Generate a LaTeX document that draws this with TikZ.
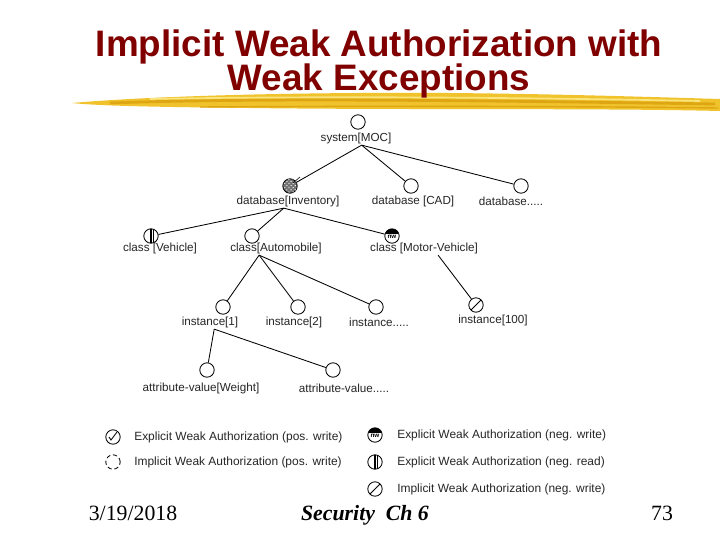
\documentclass[tikz,border=0pt]{standalone}
\usepackage{fontspec}
\setmainfont{Liberation Serif}
\setsansfont{Liberation Sans}
\usetikzlibrary{patterns}

\definecolor{titlered}{RGB}{128,0,0}
\definecolor{brushgold}{RGB}{240,195,45}
\definecolor{brushdark}{RGB}{222,166,18}
\definecolor{brushlight}{RGB}{250,228,125}

\tikzset{
  obj/.style={circle, draw, line width=0.6pt, inner sep=0pt, minimum size=0.36cm},
  expos/.style={obj, path picture={
      \draw (path picture bounding box.center) ++(-4,0) -- ++(2,3) -- ++(6,-8);}},
  impos/.style={obj, densely dashed},
  exnegw/.style={obj, path picture={
      \fill (path picture bounding box.north west) rectangle ([yshift=1.2pt]path picture bounding box.east);
      \node[font=\sffamily\bfseries\fontsize{4.5}{5}\selectfont, inner sep=0pt]
        at ([yshift=-0.8pt]path picture bounding box.center) {nw};}},
  exnegr/.style={obj, path picture={
      \draw[line width=0.9pt] (path picture bounding box.center) ++(0,-8) -- ++(0,16);
      \draw[line width=0.9pt] (path picture bounding box.center) ++(2.5,-8) -- ++(0,16);}},
  imnegw/.style={obj, path picture={
      \draw (path picture bounding box.center) ++(-5,5) -- ++(10,-10);}},
  lbl/.style={font=\sffamily\fontsize{8.3}{9}\selectfont, text=black!85, inner sep=1pt},
  leg/.style={font=\sffamily\fontsize{8.5}{10}\selectfont, text=black!85, anchor=west, inner sep=0pt},
  edge/.style={line width=0.6pt},
  heading/.style={font=\sffamily\bfseries\fontsize{26.2}{29}\selectfont, text=titlered, anchor=base, inner sep=0pt},
  foot/.style={font=\fontsize{15.5}{18}\selectfont, anchor=base, inner sep=0pt}
}

\begin{document}
\begin{tikzpicture}[x=0.025cm, y=-0.025cm]
    \useasboundingbox[fill=white] (0,0) rectangle (720,540);

    % title and brush stroke
    \fill[brushgold] (72,103) .. controls (150,96) and (300,92) .. (450,93)
        .. controls (560,94) and (650,97) .. (720,99) -- (720,111)
        .. controls (600,108) and (400,110) .. (250,108)
        .. controls (160,107) and (100,106) .. (72,103) -- cycle;
    \draw[brushdark, line width=2pt] (110,103) .. controls (250,98) and (450,100) .. (715,104);
    \draw[brushlight, line width=1.2pt] (150,99) .. controls (300,96) and (500,97) .. (700,101);
    \draw[brushdark, line width=1pt] (200,107) .. controls (350,106) and (550,106) .. (718,108);
    \node[heading] (t1) at (379,56) {Implicit Weak Authorization with};
    \node[heading] (t2) at (379,90) {Weak Exceptions};

    % tree
    \node[obj] (sys) at (358,122) {};
    \node[lbl] (sys-l) at (356,138) {system[MOC]};
    \node[obj, fill=black!55, postaction={pattern=crosshatch dots, pattern color=white}] (inv) at (290,186) {};
    \draw (inv.center) ++(3,-3) -- ++(7,-6);
    \node[lbl] (inv-l) at (288,201) {database[Inventory]};
    \node[obj] (cad) at (411,186) {};
    \node[lbl] (cad-l) at (413,201) {database [CAD]};
    \node[obj] (dbx) at (521,186) {};
    \node[lbl] (dbx-l) at (511,201) {database.....};

    \node[exnegr] (veh) at (151,236) {};
    \node[lbl] (veh-l) at (160,248) {class [Vehicle]};
    \node[obj] (auto) at (252,236) {};
    \node[lbl] (auto-l) at (276,248) {class[Automobile]};
    \node[exnegw] (mot) at (392,236) {};
    \node[lbl] (mot-l) at (424,248) {class [Motor-Vehicle]};

    \node[obj] (i1) at (223,307) {};
    \node[lbl] (i1-l) at (210,322) {instance[1]};
    \node[obj] (i2) at (298,307) {};
    \node[lbl] (i2-l) at (294,322) {instance[2]};
    \node[obj] (ix) at (376,307) {};
    \node[lbl] (ix-l) at (379,322) {instance.....};
    \node[imnegw] (i100) at (476,305) {};
    \node[lbl] (i100-l) at (493,320) {instance[100]};

    \node[obj] (aw) at (207,370) {};
    \node[lbl] (aw-l) at (201,388) {attribute-value[Weight]};
    \node[obj] (ax) at (333,370) {};
    \node[lbl] (ax-l) at (344,388) {attribute-value.....};

    \foreach \c in {inv,cad,dbx} \draw[edge] ([xshift=4pt]sys-l.south) -- (\c);
    \foreach \c in {veh,auto,mot} \draw[edge] ([xshift=-3pt]inv-l.south) -- (\c);
    \foreach \c in {i1,i2,ix} \draw[edge] ([xshift=-12pt]auto-l.south) -- (\c);
    \draw[edge] ([xshift=10pt]mot-l.south) -- (i100);
    \foreach \c in {aw,ax} \draw[edge] ([xshift=3pt]i1-l.south) -- (\c);

    % legend
    \node[expos] (k1) at (113,437) {};
    \node[leg] (k1-t) at (134,437) {Explicit Weak Authorization (pos. write)};
    \node[impos] (k2) at (113,462) {};
    \node[leg] (k2-t) at (134,462) {Implicit Weak Authorization (pos. write)};
    \node[exnegw] (k3) at (375,435) {};
    \node[leg] (k3-t) at (397,435) {Explicit Weak Authorization (neg. write)};
    \node[exnegr] (k4) at (375,462) {};
    \node[leg] (k4-t) at (397,462) {Explicit Weak Authorization (neg. read)};
    \node[imnegw] (k5) at (375,489) {};
    \node[leg] (k5-t) at (397,489) {Implicit Weak Authorization (neg. write)};

    % footer
    \node[foot] (date) at (133,520) {3/19/2018};
    \node[foot, font=\fontsize{15.5}{18}\selectfont\bfseries\itshape] (chap) at (365,520) {Security\ \ Ch 6};
    \node[foot] (page) at (662,520) {73};
\end{tikzpicture}
\end{document}
